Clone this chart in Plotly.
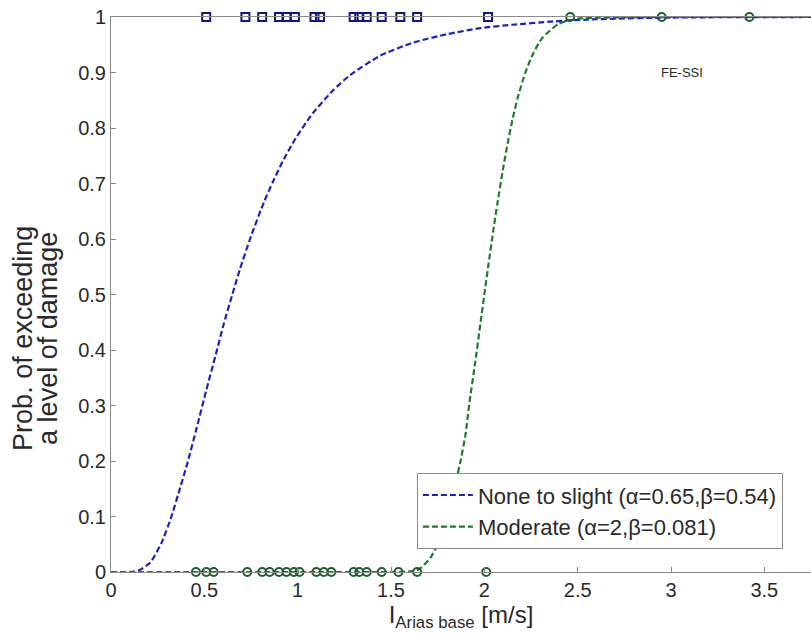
import plotly.graph_objects as go

# Fitted fragility curves
slight_curve_x = [0, 0.10, 0.15, 0.21, 0.27, 0.32, 0.36, 0.41, 0.46, 0.51, 0.56, 0.60, 0.65, 0.69,
                  0.75, 0.82, 0.87, 0.92, 0.99, 1.08, 1.19, 1.28, 1.44, 1.62, 1.80, 1.98, 2.15,
                  2.37, 2.60, 3.00, 3.75]
slight_curve_y = [0, 0, 0.003, 0.017, 0.052, 0.096, 0.140, 0.197, 0.261, 0.327, 0.390, 0.442, 0.50, 0.545,
                  0.605, 0.667, 0.705, 0.740, 0.782, 0.826, 0.868, 0.895, 0.930, 0.954, 0.969, 0.980, 0.986,
                  0.992, 0.996, 0.999, 1.0]

moderate_curve_x = [0, 1.50, 1.60, 1.65, 1.71, 1.75, 1.80, 1.87, 1.90, 1.92, 1.95, 1.98, 2.00, 2.02,
                    2.05, 2.07, 2.10, 2.13, 2.15, 2.18, 2.22, 2.26, 2.31, 2.40, 2.50, 3.00, 3.75]
moderate_curve_y = [0, 0, 0.001, 0.005, 0.025, 0.050, 0.098, 0.196, 0.250, 0.305, 0.375, 0.450, 0.50, 0.549,
                    0.620, 0.664, 0.726, 0.781, 0.814, 0.856, 0.900, 0.933, 0.962, 0.988, 0.997, 1.0, 1.0]

# Observed damage states
slight_obs_x = [0.51, 0.72, 0.81, 0.90, 0.94, 0.985, 1.09, 1.12, 1.30, 1.33, 1.37, 1.45, 1.55, 1.64, 2.02]
slight_obs_y = [1] * len(slight_obs_x)

moderate_obs0_x = [0.455, 0.51, 0.55, 0.73, 0.81, 0.85, 0.90, 0.94, 0.98, 1.01, 1.10, 1.14, 1.18,
                   1.30, 1.33, 1.37, 1.45, 1.54, 1.64, 2.01]
moderate_obs0_y = [0] * len(moderate_obs0_x)
moderate_obs1_x = [2.46, 2.95, 3.42]
moderate_obs1_y = [1] * len(moderate_obs1_x)

legend_names = ["None to slight (α=0.65,β=0.54)", "Moderate (α=2,β=0.081)"]
y_title_lines = ["Prob. of exceeding", "a level of damage"]
x_title = "I<sub>Arias base</sub> [m/s]"
x_ticks = [0, 0.5, 1, 1.5, 2, 2.5, 3, 3.5]
x_ticktext = ["0", "0.5", "1", "1.5", "2", "2.5", "3", "3.5"]
y_ticks = [0, 0.1, 0.2, 0.3, 0.4, 0.5, 0.6, 0.7, 0.8, 0.9, 1]
y_ticktext = ["0", "0.1", "0.2", "0.3", "0.4", "0.5", "0.6", "0.7", "0.8", "0.9", "1"]

BLUE = "#2020c0"
GREEN = "#1e7a2e"
FONT = "Liberation Sans, Arial, sans-serif"
TXT = "#2a2a2a"

fig = go.Figure()

fig.add_trace(go.Scatter(x=slight_curve_x, y=slight_curve_y, mode="lines", name=legend_names[0],
                         line=dict(color=BLUE, width=2.2, dash="6px,3px", shape="spline", smoothing=0.6),
                         cliponaxis=False))
fig.add_trace(go.Scatter(x=moderate_curve_x, y=moderate_curve_y, mode="lines", name=legend_names[1],
                         line=dict(color=GREEN, width=2.2, dash="6px,3px", shape="spline", smoothing=0.6),
                         cliponaxis=False))

fig.add_trace(go.Scatter(x=slight_obs_x, y=slight_obs_y, mode="markers", showlegend=False,
                         marker=dict(symbol="square-open", size=8, color="#12128c", line=dict(width=2)),
                         cliponaxis=False))
fig.add_trace(go.Scatter(x=moderate_obs0_x, y=moderate_obs0_y, mode="markers", showlegend=False,
                         marker=dict(symbol="circle-open", size=8, color="#16602a", line=dict(width=2)),
                         cliponaxis=False))
fig.add_trace(go.Scatter(x=moderate_obs1_x, y=moderate_obs1_y, mode="markers", showlegend=False,
                         marker=dict(symbol="circle-open", size=8, color="#16602a", line=dict(width=2)),
                         cliponaxis=False))

fig.add_annotation(x=3.06, y=0.90, xref="x", yref="y", text="FE-SSI", showarrow=False,
                   font=dict(family=FONT, size=13, color=TXT))

# y-axis title, two rotated lines
for line_text, xs in zip(y_title_lines, [-88, -63]):
    fig.add_annotation(x=0, y=0.42, xref="paper", yref="paper", xshift=xs, text=line_text,
                       textangle=-90, showarrow=False, xanchor="center", yanchor="middle",
                       font=dict(family=FONT, size=27, color=TXT))

axis_common = dict(showline=True, linecolor="#8a8a8a", linewidth=1, mirror=True, automargin=False,
                   ticks="inside", ticklen=5, tickcolor="#8a8a8a", showgrid=False, zeroline=False,
                   ticklabeloverflow="allow",
                   tickfont=dict(family=FONT, size=20, color=TXT))

fig.update_xaxes(range=[0, 3.75], tickvals=x_ticks, ticktext=x_ticktext,
                 title=dict(text=x_title, font=dict(family=FONT, size=24, color=TXT), standoff=0),
                 **axis_common)
fig.update_yaxes(range=[0, 1], tickvals=y_ticks, ticktext=y_ticktext, **axis_common)

fig.update_layout(
    width=811, height=635,
    margin=dict(l=111, r=0, t=17, b=63, autoexpand=False),
    plot_bgcolor="white", paper_bgcolor="white",
    legend=dict(x=0.437, y=0.178, xanchor="left", yanchor="top",
                bgcolor="white", bordercolor="#8a8a8a", borderwidth=1,
                font=dict(family=FONT, size=22, color=TXT),
                itemwidth=50, tracegroupgap=0),
    showlegend=True,
    hovermode=False,
)

# remove the page's default body margin so the figure fills the window exactly
fig.write_html("out.html", config={"displayModeBar": False},
               post_script="document.body.style.margin='0';document.body.style.overflow='hidden';")
